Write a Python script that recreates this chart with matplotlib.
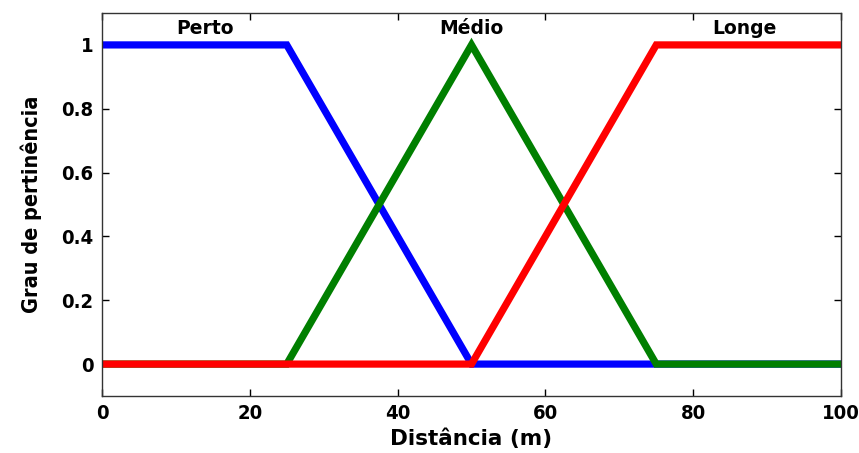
import numpy as np
import matplotlib
matplotlib.use("Agg")
import matplotlib.pyplot as plt

# membership function breakpoints (distance in m, degree)
perto_x = [0, 25, 50, 100]
perto_y = [1, 1, 0, 0]
medio_x = [0, 25, 50, 75, 100]
medio_y = [0, 0, 1, 0, 0]
longe_x = [0, 50, 75, 100]
longe_y = [0, 0, 1, 1]

labels = ["Perto", "Médio", "Longe"]
label_x = [14, 50, 87]

fig = plt.figure(figsize=(8.59, 4.53), dpi=100)
ax = fig.add_axes([102 / 859, 1 - 396 / 453, 739 / 859, 383 / 453])

ax.plot(perto_x, perto_y, color="#0000ff", lw=5.2, solid_joinstyle="miter")
ax.plot(medio_x, medio_y, color="#007f00", lw=5.2, solid_joinstyle="miter")
ax.plot(longe_x, longe_y, color="#ff0000", lw=5.2, solid_joinstyle="miter")

for name, xp in zip(labels, label_x):
    ax.text(xp, 1.05, name, ha="center", va="center", fontsize=13.5,
            fontweight="bold", family="DejaVu Sans")

ax.set_xlim(0, 100)
ax.set_ylim(-0.1, 1.1)
ax.set_xticks([0, 20, 40, 60, 80, 100])
ax.set_yticks([0, 0.2, 0.4, 0.6, 0.8, 1])
ax.set_yticklabels(["0", "0.2", "0.4", "0.6", "0.8", "1"])
ax.tick_params(direction="in", top=True, right=True, length=5, width=1, pad=6)
for lab in ax.get_xticklabels() + ax.get_yticklabels():
    lab.set_family("DejaVu Sans")
    lab.set_stretch("condensed")
    lab.set_fontweight("bold")
    lab.set_fontsize(14.5)
for s in ax.spines.values():
    s.set_linewidth(1.0)
    s.set_color("#333333")

ax.set_xlabel("Distância (m)", fontsize=15.5, fontweight="bold",
              family="DejaVu Sans", labelpad=4)
ax.set_ylabel("Grau de pertinência", fontsize=15.5, fontweight="bold",
              family="DejaVu Sans", stretch="condensed", labelpad=14)

fig.savefig("out.png", dpi=100)
